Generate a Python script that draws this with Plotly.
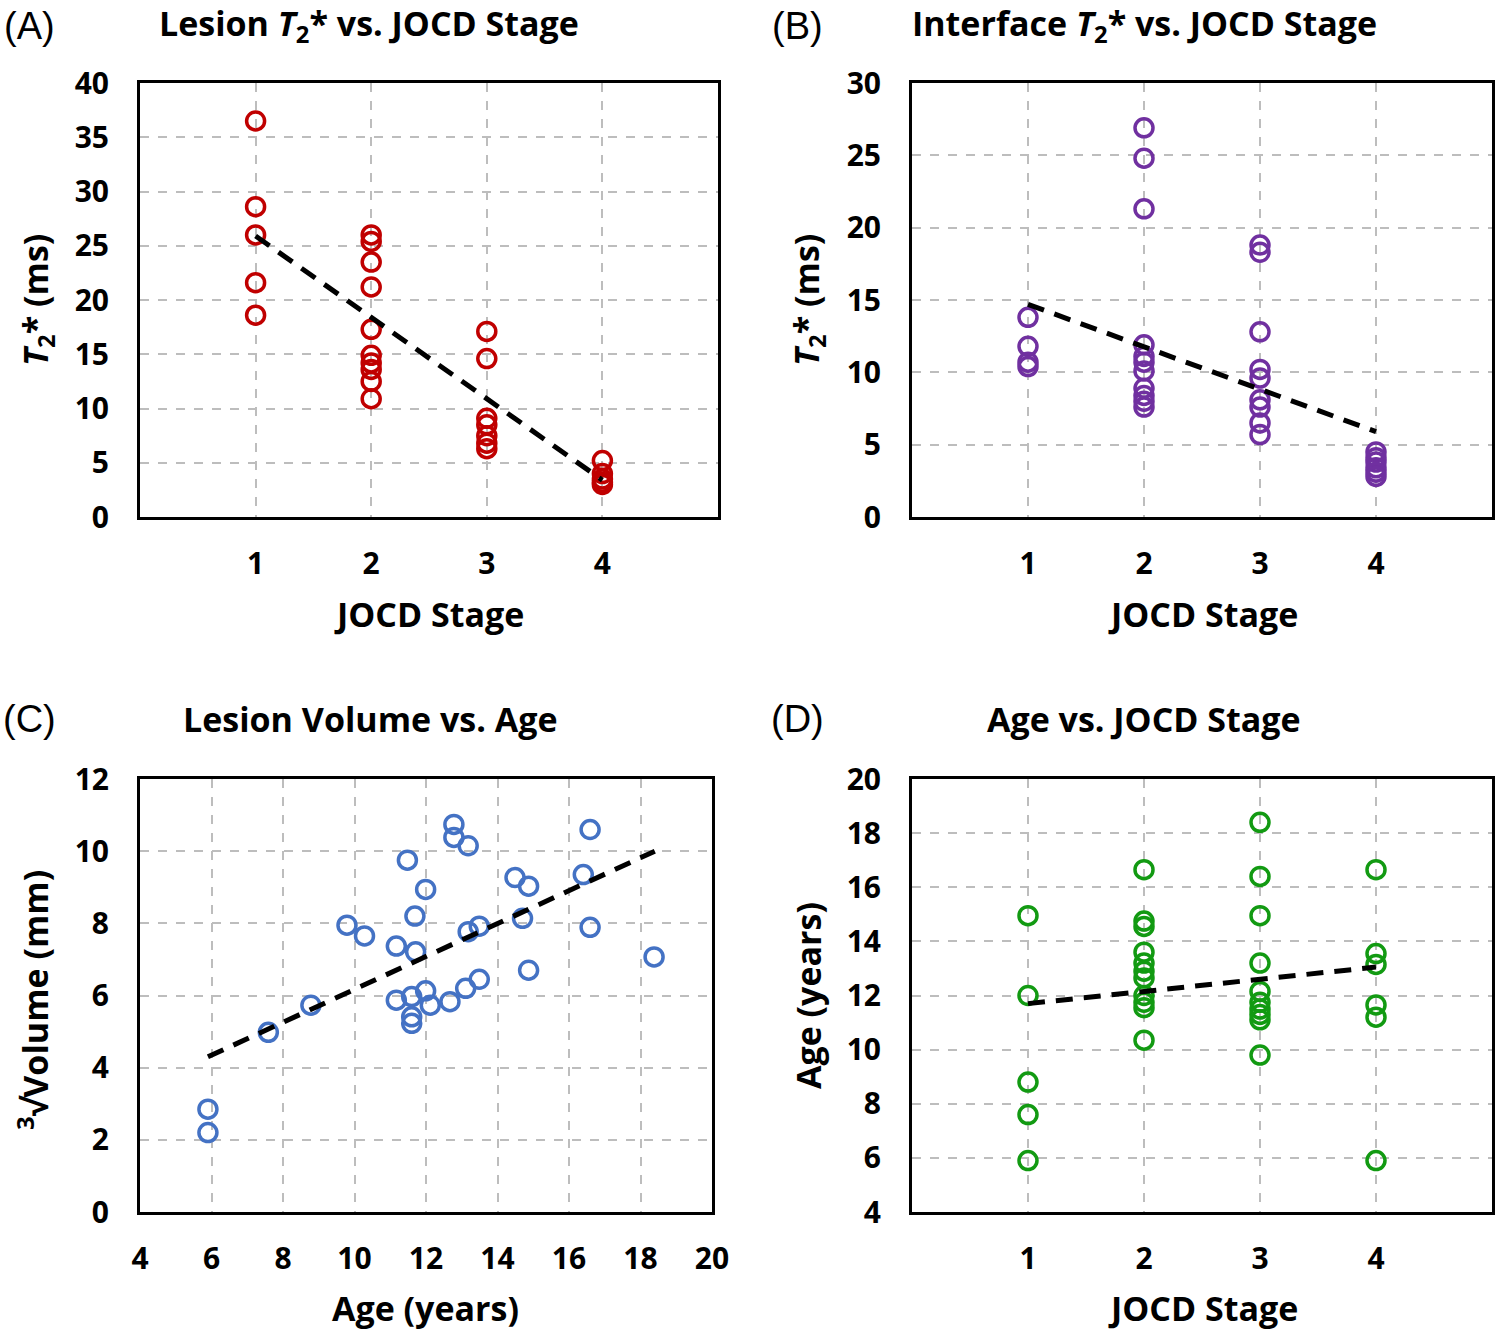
import plotly.graph_objects as go

# ---------------- data ----------------
stage_a = [1, 1, 1, 1, 1,
           2, 2, 2, 2, 2, 2, 2, 2, 2, 2,
           3, 3, 3, 3, 3, 3, 3,
           4, 4, 4, 4, 4]
lesion_t2 = [36.5, 28.6, 26.0, 21.6, 18.6,
             26.0, 25.4, 23.5, 21.2, 17.3, 14.9, 14.2, 13.6, 12.5, 10.9,
             17.1, 14.6, 9.1, 8.5, 7.5, 6.8, 6.3,
             5.2, 4.0, 3.5, 3.2, 3.0]

stage_b = [1, 1, 1, 1,
           2, 2, 2, 2, 2, 2, 2, 2, 2, 2, 2,
           3, 3, 3, 3, 3, 3, 3, 3, 3,
           4, 4, 4, 4, 4, 4]
interface_t2 = [13.8, 11.8, 10.7, 10.4,
                26.9, 24.8, 21.3, 11.9, 11.1, 10.7, 10.1, 8.9, 8.4, 8.0, 7.6,
                18.8, 18.3, 12.8, 10.2, 9.6, 8.1, 7.6, 6.5, 5.7,
                4.5, 4.1, 3.8, 3.4, 3.1, 2.8]

age_c = [5.90, 5.90, 7.59, 8.78, 9.79, 10.28, 11.17, 11.17, 11.48, 11.69, 11.71,
         11.60, 11.60, 11.60, 11.99, 11.99, 12.12, 12.67, 12.78, 12.78, 13.18,
         13.18, 13.49, 13.11, 13.49, 14.49, 14.87, 14.70, 14.87, 16.40, 16.59,
         16.59, 18.38]
volume_c = [2.85, 2.20, 4.98, 5.73, 7.95, 7.65, 7.37, 5.87, 9.75, 8.20, 7.21,
            5.97, 5.41, 5.23, 8.94, 6.13, 5.73, 5.83, 10.74, 10.38, 10.15,
            7.77, 7.92, 6.20, 6.45, 9.27, 9.03, 8.14, 6.70, 9.35, 10.60,
            7.89, 7.07]

stage_d = [1, 1, 1, 1, 1,
           2, 2, 2, 2, 2, 2, 2, 2, 2, 2, 2,
           3, 3, 3, 3, 3, 3, 3, 3, 3, 3,
           4, 4, 4, 4, 4, 4]
age_d = [14.95, 12.0, 8.8, 7.6, 5.9,
         16.65, 14.75, 14.55, 13.6, 13.2, 12.9, 12.65, 12.0, 11.75, 11.55, 10.35,
         18.4, 16.4, 14.95, 13.2, 12.15, 11.75, 11.5, 11.3, 11.1, 9.8,
         16.65, 13.55, 13.15, 11.65, 11.2, 5.9]

# fitted trend lines
trend_stage = [1, 4]
trend_a = [25.9, 3.4]
trend_b = [14.7, 5.9]
trend_c_age = [5.9, 18.4]
trend_c_vol = [4.3, 10.0]
trend_d = [11.7, 13.05]

stage_ticks = [1, 2, 3, 4]
ticks_a = [0, 5, 10, 15, 20, 25, 30, 35, 40]
ticks_b = [0, 5, 10, 15, 20, 25, 30]
ticks_c_x = [4, 6, 8, 10, 12, 14, 16, 18, 20]
ticks_c_y = [0, 2, 4, 6, 8, 10, 12]
ticks_d = [4, 6, 8, 10, 12, 14, 16, 18, 20]

RED = "#C00000"
PURPLE = "#7030A0"
BLUE = "#4472C4"
GREEN = "#129A12"

W, H = 1500, 1336
FONT = "Open Sans"


def px(x):
    return x / W


def py(y):
    return 1 - y / H


fig = go.Figure()


def scatter(x, y, color, ax):
    fig.add_trace(go.Scatter(
        x=x, y=y, mode="markers", xaxis="x" + ax, yaxis="y" + ax,
        marker=dict(symbol="circle-open", size=18, color=color,
                    line=dict(width=3.5, color=color)),
        showlegend=False, hoverinfo="x+y"))


def trend(x, y, ax):
    fig.add_trace(go.Scatter(
        x=x, y=y, mode="lines", xaxis="x" + ax, yaxis="y" + ax,
        line=dict(color="black", width=5, dash="17px,11px"),
        showlegend=False, hoverinfo="skip"))


scatter(stage_a, lesion_t2, RED, "")
trend(trend_stage, trend_a, "")
scatter(stage_b, interface_t2, PURPLE, "2")
trend(trend_stage, trend_b, "2")
scatter(age_c, volume_c, BLUE, "3")
trend(trend_c_age, trend_c_vol, "3")
scatter(stage_d, age_d, GREEN, "4")
trend(trend_stage, trend_d, "4")


def axis(domain, rng, tickvals, anchor, standoff):
    return dict(
        domain=domain, range=rng, tickvals=tickvals, anchor=anchor,
        showline=True, mirror=True, linecolor="black", linewidth=3,
        showgrid=True, gridcolor="#BDBDBD", gridwidth=1.5, griddash="dash",
        zeroline=False, ticks="", ticklabelstandoff=standoff,
        automargin=False,
        tickfont=dict(family=FONT, size=30, color="black", weight="bold"),
        fixedrange=True)


dom_xl = [px(140), px(718)]
dom_xr = [px(912), px(1492)]
dom_xc = [px(140), px(712)]
dom_yt = [py(517), py(83)]
dom_yb = [py(1212), py(779)]

XS, YS = 18, 22

fig.update_layout(
    width=W, height=H, autosize=False,
    margin=dict(l=0, r=0, t=0, b=0, pad=0, autoexpand=False),
    paper_bgcolor="white", plot_bgcolor="white",
    xaxis=axis(dom_xl, [0, 5], stage_ticks, "y", XS),
    yaxis=axis(dom_yt, [0, 40], ticks_a, "x", YS),
    xaxis2=axis(dom_xr, [0, 5], stage_ticks, "y2", XS),
    yaxis2=axis(dom_yt, [0, 30], ticks_b, "x2", YS),
    xaxis3=axis(dom_xc, [4, 20], ticks_c_x, "y3", XS),
    yaxis3=axis(dom_yb, [0, 12], ticks_c_y, "x3", YS),
    xaxis4=axis(dom_xr, [0, 5], stage_ticks, "y4", XS),
    yaxis4=axis(dom_yb, [4, 20], ticks_d, "x4", YS),
)

ann = []


def text(x, y, s, size, bold=True, angle=0, family=FONT):
    ann.append(dict(
        x=px(x), y=py(y), xref="paper", yref="paper", text=s,
        showarrow=False, xanchor="center", yanchor="middle", textangle=angle,
        font=dict(family=family, size=size, color="black",
                  weight="bold" if bold else "normal")))


# panel letters
for lx, ly, s in [(29, 26, "(A)"), (797, 26, "(B)"), (29, 719, "(C)"), (797, 719, "(D)")]:
    text(lx, ly, s, 38, bold=False, family="Liberation Sans")

# titles
text(369, 25, "Lesion <i>T</i><sub>2</sub>* vs. JOCD Stage", 34)
text(1144, 25, "Interface <i>T</i><sub>2</sub>* vs. JOCD Stage", 34)
text(370, 719, "Lesion Volume vs. Age", 34)
text(1144, 719, "Age vs. JOCD Stage", 34)

# axis titles
text(429, 614, "JOCD Stage", 34)
text(1203, 614, "JOCD Stage", 34)
text(426, 1308, "Age (years)", 34)
text(1203, 1308, "JOCD Stage", 34)
text(37, 300, "<i>T</i><sub>2</sub>* (ms)", 34, angle=-90)
text(808, 300, "<i>T</i><sub>2</sub>* (ms)", 34, angle=-90)
text(33, 1000, "<sup>3</sup>√Volume (mm)", 34, angle=-90)
text(808, 995, "Age (years)", 34, angle=-90)

fig.update_layout(annotations=ann)

fig.write_html(
    "out.html",
    config={"displayModeBar": False},
    post_script="document.body.style.margin='0px';document.body.style.padding='0px';",
)
